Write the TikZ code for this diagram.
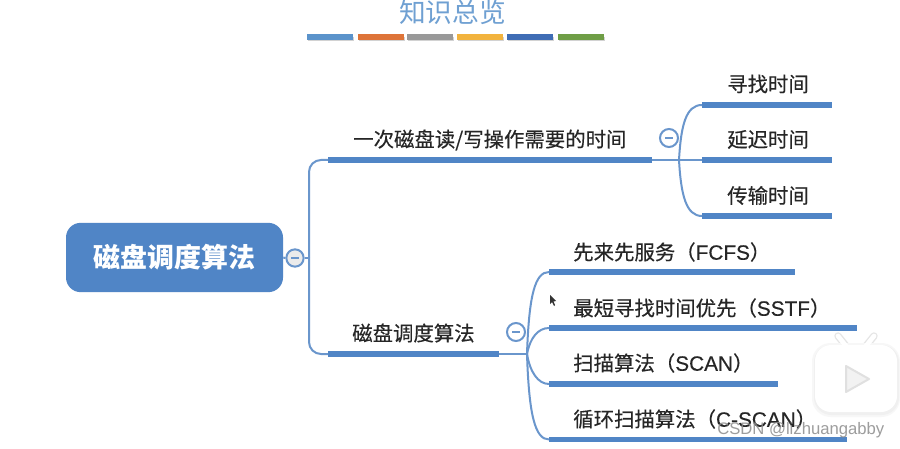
\documentclass[tikz,border=0pt]{standalone}
\usepackage{fontspec}
\setmainfont[FakeBold=0.35]{Noto Sans CJK SC}
\newfontfamily\plainfont{Noto Sans CJK SC}
\newfontfamily\wmfont{Liberation Sans}
\newfontfamily\latfont[FakeBold=0.25]{Liberation Sans}
\newcommand{\lat}[1]{{\latfont\fontsize{15.6}{18}\selectfont #1}}
\definecolor{mapblue}{HTML}{5085C6}
\definecolor{linkblue}{HTML}{6A96CC}
\definecolor{titleblue}{HTML}{6FA0D2}
\definecolor{inktext}{HTML}{262626}
\tikzset{
  barline/.style={fill=mapblue,draw=none,minimum height=4.4pt,inner sep=0pt,outer sep=0pt,anchor=west},
  link/.style={draw=linkblue,line width=1.5pt},
  lbl/.style={inner sep=0pt,anchor=west,text=inktext,font=\fontsize{15.3}{18}\selectfont},
  toggle/.style={circle,draw=linkblue,line width=1.5pt,fill=white,minimum size=13.5pt,inner sep=0pt},
  swatch/.style={draw=none,minimum width=34.5pt,minimum height=3.8pt,inner sep=0pt,anchor=west},
}
\begin{document}
\begin{tikzpicture}[x=0.75pt,y=-0.75pt]
\useasboundingbox (0,0) rectangle (900,449);
\fill[white] (0,0) rectangle (900,449);
% title
\node[inner sep=0pt,text=titleblue,font=\plainfont\fontsize{20}{24}\selectfont] (title) at (452.5,12) {知识总览};
\foreach \n/\x/\c in {a/307/5B93CB,b/358/DE7439,c/407/999999,d/457/F2B33D,e/507/3F6DB5,f/558/6F9E46}{
  \definecolor{sw}{HTML}{\c}
  \fill[gray!35] (\x+1,37) rectangle (\x+47,41);
  \node[swatch,fill=sw] (sw\n) at (\x,37) {};
}
% root
\node[fill=mapblue,rounded corners=11pt,minimum width=162.75pt,minimum height=52pt,inner sep=0pt,text=white,font=\plainfont\bfseries\fontsize{20.2}{24}\selectfont] (root) at (174.5,257.5) {磁盘调度算法};
\node[toggle,minimum size=13pt,fill=white!92!black] (t0) at (295,258) {};
\node[inner sep=0pt,minimum width=6pt,minimum height=1.4pt,fill=linkblue] (t0m) at (295,258) {};
% level 1 bars
\node[barline,minimum width=243pt] (b1) at (328,160) {};
\node[barline,minimum width=128.25pt] (b2) at (328,354) {};
\node[lbl] (l1) at (353,140) {一次磁盘读/写操作需要的时间};
\node[lbl] (l2) at (352,333) {磁盘调度算法};
% level 2 bars upper
\node[barline,minimum width=97.5pt] (u1) at (702,105) {};
\node[barline,minimum width=97.5pt] (u2) at (702,160) {};
\node[barline,minimum width=97.5pt] (u3) at (702,216) {};
\node[lbl] (lu1) at (727,84) {寻找时间};
\node[lbl] (lu2) at (727,139.5) {延迟时间};
\node[lbl] (lu3) at (727,195.5) {传输时间};
% level 2 bars lower
\node[barline,minimum width=184.5pt] (v1) at (549,272) {};
\node[barline,minimum width=231pt] (v2) at (549,328) {};
\node[barline,minimum width=171.75pt] (v3) at (549,384) {};
\node[barline,minimum width=223.5pt] (v4) at (549,439.5) {};
\node[lbl] (lv1) at (573,252) {先来先服务（\lat{FCFS}）};
\node[lbl] (lv2) at (573,308) {最短寻找时间优先（\lat{SSTF}）};
\node[lbl] (lv3) at (573,363) {扫描算法（\lat{SCAN}）};
\node[lbl] (lv4) at (573,419) {循环扫描算法（\lat{C-SCAN}）};
% junctions
\coordinate (j0) at (309,258);
\coordinate (j1) at (679,160);
\coordinate (j2) at (527,354);
% connectors
\draw[link] (root.east) -- (t0.west);
\draw[link] (t0.east) -- (j0);
\draw[link,rounded corners=9pt] (j0) |- (b1.west);
\draw[link,rounded corners=9pt] (j0) |- (b2.west);
\draw[link] (b1.east) -- (u2.west);
\draw[link] (j1) .. controls (681,125) and (686,105) .. (u1.west);
\draw[link] (j1) .. controls (681,195) and (686,216) .. (u3.west);
\draw[link] (b2.east) -- (j2);
\draw[link] (j2) .. controls (529,295) and (535,272) .. (v1.west);
\draw[link] (j2) .. controls (530,338) and (538,328) .. (v2.west);
\draw[link] (j2) .. controls (530,372) and (538,384) .. (v3.west);
\draw[link] (j2) .. controls (529,415) and (535,439.5) .. (v4.west);
% toggles
\node[toggle] (t1) at (669,138) {};
\node[inner sep=0pt,minimum width=6pt,minimum height=1.2pt,fill=linkblue] (t1m) at (669,138) {};
\node[toggle] (t2) at (516,332) {};
\node[inner sep=0pt,minimum width=6pt,minimum height=1.2pt,fill=linkblue] (t2m) at (516,332) {};
% cursor
\fill[black!80] (550,295) -- (550,304) -- (552,302) -- (554,306) -- (555,305) -- (553.5,301.5) -- (556,301) -- cycle;
% play badge
\draw[black!10,line width=5.5pt,line cap=round] (838,336) -- (846,346);
\draw[black!10,line width=5.5pt,line cap=round] (874,336) -- (866,346);
\fill[black!3,rounded corners=14pt] (812,343) rectangle (900,417);
\fill[black!6,rounded corners=13pt] (814,345) rectangle (899,415);
\fill[white,rounded corners=12pt] (815,345) rectangle (897,412);
\draw[white,line width=3.5pt,line cap=round] (838,336) -- (846,346);
\draw[white,line width=3.5pt,line cap=round] (874,336) -- (866,346);
\filldraw[draw=black!12,fill=black!5,line width=1.5pt,line join=round] (846,366) -- (869,379) -- (846,392) -- cycle;
% watermark
\node[inner sep=0pt,anchor=west,text=black!45,opacity=0.85,font=\wmfont\fontsize{12.5}{14}\selectfont] (wm) at (717,430) {CSDN @lizhuangabby};
\end{tikzpicture}
\end{document}
